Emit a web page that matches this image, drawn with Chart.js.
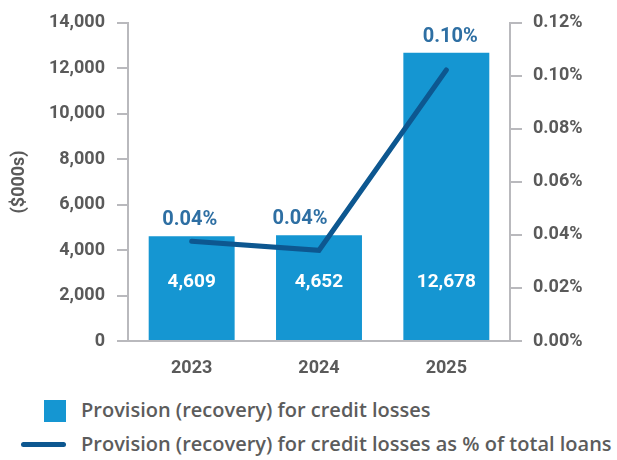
<!DOCTYPE html>
<html>
<head>
<meta charset="utf-8">
<script src="https://cdn.jsdelivr.net/npm/chart.js@4"></script>
<style>
    body { margin: 0; background: #fff; }
    #wrap { position: relative; width: 617px; height: 460px; }
    .legend { position: absolute; left: 0; font-family: "Open Sans", sans-serif; font-weight: 600; font-size: 20px; color: #5c5c5c; }
    .legend .txt { position: absolute; left: 81px; white-space: nowrap; }
</style>
</head>
<body>
<div id="wrap">
    <canvas id="chart" width="617" height="385"></canvas>
    <div class="legend" style="top:400px">
        <div style="position:absolute;left:44px;top:0;width:22px;height:22px;background:#1596d2"></div>
        <div class="txt" style="top:-4px">Provision (recovery) for credit losses</div>
    </div>
    <div class="legend" style="top:431px">
        <div style="position:absolute;left:21px;top:11px;width:45px;height:5px;border-radius:3px;background:#0d5790"></div>
        <div class="txt" style="top:-1px">Provision (recovery) for credit losses as % of total loans</div>
    </div>
</div>
<script>
// Chart data
const years = ['2023', '2024', '2025'];
const provision = [4609, 4652, 12678];
const pctOfLoans = [0.0376, 0.0342, 0.1022];
const pctLabels = ['0.04%', '0.04%', '0.10%'];
const leftTicks = [0, 2000, 4000, 6000, 8000, 10000, 12000, 14000];
const rightTicks = [0, 0.02, 0.04, 0.06, 0.08, 0.10, 0.12];

const numFont = 'Roboto, sans-serif';
const axisGray = '#b9b9bd';
const textGray = '#5a5a5a';

// draws the value labels inside the bars and the % labels above them
const labelPlugin = {
    id: 'labels',
    afterDatasetsDraw(chart, args, opts) {
        const c = chart.ctx;
        const bars = chart.getDatasetMeta(1).data;
        const y = chart.scales.y;
        c.save();
        c.textAlign = 'center';
        c.textBaseline = 'middle';
        bars.forEach((bar, i) => {
            c.font = 'bold 19px ' + numFont;
            c.fillStyle = '#ffffff';
            c.fillText(provision[i].toLocaleString('en-US'), bar.x, y.getPixelForValue(2600));
            c.font = 'bold 20px ' + numFont;
            c.fillStyle = '#2e6fa3';
            c.fillText(pctLabels[i], bar.x + opts.shiftX[i], bar.y - 16);
        });
        c.restore();
    }
};

const ctx = document.getElementById('chart').getContext('2d');
const chart = new Chart(ctx, {
    data: {
        labels: years,
        datasets: [
            {
                type: 'line',
                label: 'Provision (recovery) for credit losses as % of total loans',
                data: pctOfLoans,
                yAxisID: 'y1',
                borderColor: '#0d5790',
                borderWidth: 5,
                borderCapStyle: 'round',
                pointRadius: 0,
                tension: 0,
                order: 0
            },
            {
                type: 'bar',
                label: 'Provision (recovery) for credit losses',
                data: provision,
                yAxisID: 'y',
                backgroundColor: '#1596d2',
                categoryPercentage: 1,
                barPercentage: 0.675,
                order: 1
            }
        ]
    },
    options: {
        responsive: false,
        animation: false,
        layout: { padding: { top: 22, left: 0, right: 0, bottom: 0 } },
        plugins: {
            legend: { display: false },
            tooltip: { enabled: false },
            labels: { shiftX: [-2, -19, 4] }
        },
        scales: {
            x: {
                grid: { display: false },
                border: { display: true, color: axisGray, width: 2 },
                ticks: { color: textGray, font: { family: numFont, size: 18, weight: 'bold' }, padding: 9 },
                afterFit(s) { s.height = 44; }
            },
            y: {
                position: 'left',
                min: 0,
                max: 14000,
                afterBuildTicks(s) { s.ticks = leftTicks.map(v => ({ value: v })); },
                grid: { drawOnChartArea: false, color: axisGray, lineWidth: 2, tickLength: 11 },
                border: { color: axisGray, width: 2 },
                ticks: {
                    color: textGray,
                    padding: 12,
                    font: { family: numFont, size: 18, weight: 'bold' },
                    callback: v => v.toLocaleString('en-US')
                },
                title: {
                    display: true,
                    text: '($000s)',
                    color: textGray,
                    font: { family: numFont, size: 18, weight: 'bold' },
                    padding: { top: 9, bottom: 0 }
                },
                afterFit(s) { s.width = 128; }
            },
            y1: {
                position: 'right',
                min: 0,
                max: 0.12,
                afterBuildTicks(s) { s.ticks = rightTicks.map(v => ({ value: v })); },
                grid: { drawOnChartArea: false, color: axisGray, lineWidth: 2, tickLength: 12 },
                border: { color: axisGray, width: 2 },
                ticks: {
                    color: textGray,
                    padding: 11,
                    font: { family: numFont, size: 18, weight: 'bold' },
                    callback: v => v.toFixed(2) + '%'
                },
                afterFit(s) { s.width = 107; }
            }
        }
    },
    plugins: [labelPlugin]
});
</script>
</body>
</html>
